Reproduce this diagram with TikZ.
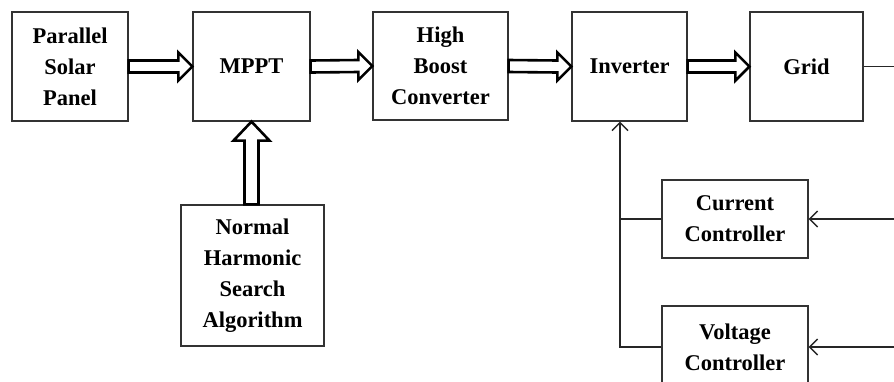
\documentclass[tikz,border=0pt]{standalone}
\usepackage{fontspec}
\setmainfont{Liberation Serif}
\usetikzlibrary{calc,arrows.meta}
\tikzset{
  blk/.style={draw=black!80, line width=1.2pt, fill=white, align=center, inner sep=0pt,
    font=\fontsize{22.5}{31}\selectfont\bfseries},
  dbl/.style={draw=black, line width=2.6pt, line join=miter, fill=white},
  thin/.style={draw=black!85, line width=1.3pt},
  thinarr/.style={thin, -{Straight Barb[length=8pt,width=16pt,line width=1.4pt]}}
}
\newcommand{\harr}[2]{%
  \draw[dbl] ($(#1.east)+(0,-6)$) -- ($(#2.west)+(-14,-6)$) -- ($(#2.west)+(-14,-14)$)
    -- (#2.west) -- ($(#2.west)+(-14,14)$) -- ($(#2.west)+(-14,6)$)
    -- ($(#1.east)+(0,6)$) -- cycle;}
\begin{document}
\begin{tikzpicture}[x=1pt,y=-1pt]
\useasboundingbox (0,0) rectangle (894,381);
\clip (0,0) rectangle (894,381);
\node[blk, minimum width=116pt, minimum height=109pt] (ps) at (70,66.5) {Parallel\\Solar\\Panel};
\node[blk, minimum width=117pt, minimum height=109pt] (mppt) at (251.5,66.5) {MPPT};
\node[blk, minimum width=135pt, minimum height=108pt] (hb) at (440.5,66) {High\\Boost\\Converter};
\node[blk, minimum width=115pt, minimum height=109pt] (inv) at (629.5,66.5) {Inverter};
\node[blk, minimum width=113pt, minimum height=109pt] (grid) at (806.5,66.5) {Grid};
\node[blk, minimum width=143pt, minimum height=141pt] (nhsa) at (252.5,275.5) {Normal\\Harmonic\\Search\\Algorithm};
\node[blk, minimum width=146pt, minimum height=78pt] (cc) at (735,219) {Current\\Controller};
\node[blk, minimum width=146pt, minimum height=82pt] (vc) at (735,347) {Voltage\\Controller};
\coordinate (fb) at (620,347);
\coordinate (gout) at (894,66.5);
\coordinate (cin) at (894,219);
\coordinate (vin) at (894,347);
% double arrows
\harr{ps}{mppt}
\harr{mppt}{hb}
\harr{hb}{inv}
\harr{inv}{grid}
\coordinate (vt) at (mppt.south);
\coordinate (vb) at (nhsa.north -| mppt.south);
\draw[dbl] ($(vb)+(-7,0)$) -- ($(vt)+(-7,19)$) -- ($(vt)+(-18,19)$) -- (vt)
  -- ($(vt)+(18,19)$) -- ($(vt)+(7,19)$) -- ($(vb)+(7,0)$) -- cycle;
% thin lines
\draw[thin] (grid.east) -- (gout);
\draw[thinarr] (cin) -- (cc.east);
\draw[thinarr] (vin) -- (vc.east);
\draw[thin] (cc.west) -- (cc.west -| fb);
\draw[thinarr] (vc.west) -- (fb) -- (fb |- inv.south);
\end{tikzpicture}
\end{document}
